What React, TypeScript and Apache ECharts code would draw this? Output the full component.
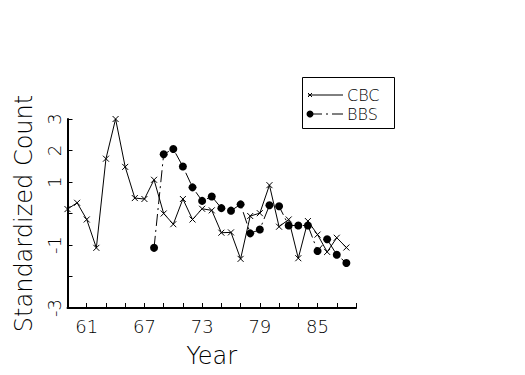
import React, { useEffect, useRef } from "react";
import * as echarts from "echarts";

const years = [59, 60, 61, 62, 63, 64, 65, 66, 67, 68, 69, 70, 71, 72, 73, 74, 75, 76, 77, 78, 79, 80, 81, 82, 83, 84, 85, 86, 87, 88];
const cbc = [0.14, 0.34, -0.19, -1.09, 1.74, 3.0, 1.48, 0.49, 0.46, 1.07, 0.0, -0.34, 0.46, -0.19, 0.15, 0.1, -0.61, -0.6, -1.44, -0.08, 0.01, 0.9, -0.42, -0.19, -1.42, -0.24, -0.67, -1.22, -0.77, -1.08];
const bbsYears = [68, 69, 70, 71, 72, 73, 74, 75, 76, 77, 78, 79, 80, 81, 82, 83, 84, 85, 86, 87, 88];
const bbs = [-1.09, 1.88, 2.05, 1.49, 0.83, 0.4, 0.54, 0.17, 0.09, 0.29, -0.63, -0.51, 0.26, 0.23, -0.38, -0.38, -0.38, -1.19, -0.82, -1.31, -1.57];
const xTickLabels = [61, 67, 73, 79, 85];
const yTickLabels = [3, 2, 1, -1, -3];

const FONT = "DejaVu Sans";

export default function App() {
  const ref = useRef<HTMLDivElement>(null);
  useEffect(() => {
    if (!ref.current) return;
    const chart = echarts.init(ref.current, null, { renderer: "svg" });
    const crossPath = "path://M0,0L10,10M10,0L0,10";
    chart.setOption({
      animation: false,
      backgroundColor: "#ffffff",
      grid: { left: 67.5, right: 169, top: 119, bottom: 67, containLabel: false },
      xAxis: {
        type: "value",
        min: 59,
        max: 89,
        interval: 2,
        name: "Year",
        nameLocation: "middle",
        nameGap: 36,
        nameTextStyle: { fontFamily: FONT, fontSize: 24, fontWeight: 200, color: "#000" },
        axisLine: { onZero: false, lineStyle: { color: "#000", width: 2 } },
        axisTick: { inside: true, length: 5, lineStyle: { color: "#000", width: 1 } },
        splitLine: { show: false },
        axisLabel: {
          fontFamily: FONT,
          fontSize: 18,
          fontWeight: 200,
          color: "#000",
          margin: 9,
          formatter: (v: number) => (xTickLabels.includes(v) ? String(v) : ""),
        },
      },
      yAxis: {
        type: "value",
        min: -3,
        max: 3,
        interval: 1,
        name: "Standardized Count",
        nameLocation: "middle",
        nameGap: 32,
        nameTextStyle: { fontFamily: FONT, fontSize: 24, fontWeight: 200, color: "#000" },
        axisLine: { show: true, onZero: false, lineStyle: { color: "#000", width: 2 } },
        axisTick: { show: true, inside: true, length: 5, lineStyle: { color: "#000", width: 1 } },
        splitLine: { show: false },
        axisLabel: {
          fontFamily: FONT,
          fontSize: 18,
          fontWeight: 200,
          color: "#000",
          rotate: 90,
          margin: 4,
          formatter: (v: number) => (yTickLabels.includes(v) ? String(v) : ""),
        },
      },
      series: [
        {
          name: "CBC",
          type: "line",
          data: years.map((y, i) => [y, cbc[i]]),
          symbol: crossPath,
          symbolSize: 6,
          itemStyle: { color: "#fff", borderColor: "#000", borderWidth: 1 },
          lineStyle: { color: "#000", width: 1 },
          clip: false,
        },
        {
          name: "BBS",
          type: "line",
          data: bbsYears.map((y, i) => [y, bbs[i]]),
          symbol: "circle",
          symbolSize: 8,
          itemStyle: { color: "#000" },
          lineStyle: { color: "#000", width: 1, type: [12, 4, 2, 4] },
          clip: false,
        },
      ],
      graphic: [
        { type: "rect", shape: { x: 302.5, y: 77.5, width: 92, height: 51 }, style: { fill: "#fff", stroke: "#000", lineWidth: 1 } },
        { type: "line", shape: { x1: 308, y1: 95, x2: 343, y2: 95 }, style: { stroke: "#000", lineWidth: 1 } },
        { type: "line", shape: { x1: 308, y1: 93, x2: 312, y2: 97 }, style: { stroke: "#000", lineWidth: 1 } },
        { type: "line", shape: { x1: 308, y1: 97, x2: 312, y2: 93 }, style: { stroke: "#000", lineWidth: 1 } },
        { type: "text", x: 347, y: 95, style: { text: "CBC", fontFamily: FONT, fontSize: 16, fontWeight: 200, fill: "#000", verticalAlign: "middle", align: "left" } },
        { type: "line", shape: { x1: 310, y1: 114, x2: 343, y2: 114 }, style: { stroke: "#000", lineWidth: 1, lineDash: [12, 4, 2, 4] } },
        { type: "circle", shape: { cx: 310, cy: 114, r: 3.5 }, style: { fill: "#000" } },
        { type: "text", x: 347, y: 114, style: { text: "BBS", fontFamily: FONT, fontSize: 16, fontWeight: 200, fill: "#000", verticalAlign: "middle", align: "left" } },
      ],
    });
    return () => chart.dispose();
  }, []);
  return <div ref={ref} style={{ width: 525, height: 375, position: "absolute", left: 0, top: 0 }} />;
}
